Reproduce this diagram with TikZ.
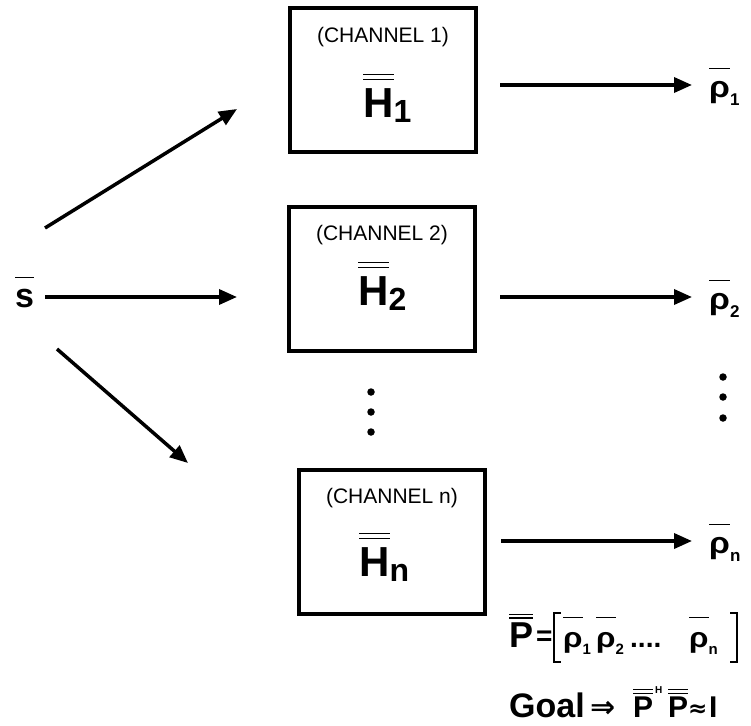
\documentclass[tikz,border=0pt]{standalone}
\usepackage{fontspec}
\setmainfont{Liberation Sans}
\newfontfamily\dvs{DejaVu Sans}
\usetikzlibrary{arrows.meta}
% double bar over content: #1, #2 = gaps above the content's height
\newcommand\dob[3]{\setbox0\hbox{#3}\rlap{\rule[\dimexpr\ht0+#1\relax]{\wd0}{1.4pt}}\rlap{\rule[\dimexpr\ht0+#2\relax]{\wd0}{1.4pt}}\box0}
% single bar at fixed height above baseline
\newcommand\sob[2]{\setbox0\hbox{#2}\rlap{\rule[#1]{\wd0}{1.4pt}}\box0}
\newcommand\rh{\scalebox{1.12}[1]{ρ}}
\tikzset{
  chbox/.style={draw, line width=4pt, minimum width=186pt, minimum height=144pt, inner sep=0},
  chlbl/.style={font=\fontsize{21}{21}\selectfont, inner sep=0, anchor=base},
  hlbl/.style={font=\fontsize{42}{42}\selectfont\bfseries, inner sep=0, anchor=base west},
  rholbl/.style={font=\fontsize{30}{30}\selectfont\bfseries, inner sep=0, anchor=base west},
  arr/.style={line width=3.5pt, -{Triangle[length=18pt,width=15pt]}},
  vdot/.style={fill, circle, inner sep=0, minimum size=7.5pt},
  fml/.style={font=\fontsize{28}{28}\selectfont\bfseries, inner sep=0, anchor=base west},
  brk/.style={line width=2.5pt},
}
\newcommand\hsub[1]{\raisebox{-5pt}{\fontsize{32}{32}\selectfont #1}}
\newcommand\rsub[1]{\raisebox{-8pt}{\fontsize{17}{17}\selectfont #1}}
\newcommand\fsub[1]{\raisebox{-7pt}{\fontsize{15}{15}\selectfont #1}}
\begin{document}
\begin{tikzpicture}[x=1pt,y=-1pt]
\useasboundingbox (0,0) rectangle (751,725);
% boxes
\node[chbox] (b1) at (383,80) {};
\node[chbox] (b2) at (382,278.5) {};
\node[chbox] (bn) at (392,542) {};
\node[chlbl] (c1) at (383,42) {(CHANNEL 1)};
\node[chlbl] (c2) at (382,240) {(CHANNEL 2)};
\node[chlbl] (cn) at (392,503) {(CHANNEL n)};
\node[hlbl] (h1) at (363,117) {\dob{8pt}{13pt}{H}\hsub{1}};
\node[hlbl] (h2) at (358,305) {\dob{8pt}{13pt}{H}\hsub{2}};
\node[hlbl] (hn) at (359,576) {\dob{8pt}{13pt}{H}\hsub{n}};
% source
\node[font=\fontsize{34}{34}\selectfont\bfseries, inner sep=0, anchor=base west] (s) at (15,307) {\sob{29pt}{s}};
\coordinate (a1s) at (45,228); \coordinate (a1e) at (237,109);
\coordinate (a2s) at (45,297); \coordinate (a2e) at (237,297);
\coordinate (a3s) at (57,349); \coordinate (a3e) at (188,463);
\draw[arr] (a1s) -- (a1e);
\draw[arr] (a2s) -- (a2e);
\draw[arr] (a3s) -- (a3e);
% outputs
\node[rholbl] (r1) at (709,97) {\sob{28pt}{\rh}\rsub{1}};
\node[rholbl] (r2) at (709,309) {\sob{28pt}{\rh}\rsub{2}};
\node[rholbl] (rn) at (709,553) {\sob{28pt}{\rh}\rsub{n}};
\coordinate (o1s) at (500,85); \coordinate (o1e) at (692,85);
\coordinate (o2s) at (500,297); \coordinate (o2e) at (692,297);
\coordinate (o3s) at (501,541); \coordinate (o3e) at (692,541);
\draw[arr] (o1s) -- (o1e);
\draw[arr] (o2s) -- (o2e);
\draw[arr] (o3s) -- (o3e);
% dots
\node[vdot] (d1) at (371,392) {};
\node[vdot] (d2) at (371,412) {};
\node[vdot] (d3) at (371,432) {};
\node[vdot] (e1) at (723,377) {};
\node[vdot] (e2) at (723,397) {};
\node[vdot] (e3) at (723,418) {};
% formula P = [ ... ]
\node[fml, font=\fontsize{36}{36}\selectfont\bfseries] (P) at (509,647) {\dob{3.5pt}{7pt}{P}};
\node[fml, font=\fontsize{28}{28}\selectfont\bfseries] (eq) at (536,645) {=};
\draw[brk] (561,613) -- (554,613) -- (554,662) -- (561,662);
\draw[brk] (730,613) -- (737,613) -- (737,662) -- (730,662);
\node[fml] (f1) at (563,647) {\sob{29pt}{\rh}\fsub{1}};
\node[fml] (f2) at (596,647) {\sob{29pt}{\rh}\fsub{2}};
\node[fml] (fd) at (630,647) {....};
\node[fml] (fn) at (689,647) {\sob{29pt}{\rh}\fsub{n}};
% goal
\node[font=\fontsize{34}{34}\selectfont\bfseries, inner sep=0, anchor=base west] (g) at (509,717) {Goal};
\node[font=\fontsize{30}{30}\selectfont\dvs\bfseries, inner sep=0, anchor=base west] (imp) at (590,717) {⇒};
\node[fml, font=\fontsize{30}{30}\selectfont\bfseries] (gp1) at (633,717) {\dob{2pt}{6pt}{P}};
\node[font=\fontsize{10}{10}\selectfont\bfseries, inner sep=0, anchor=base west] (gh) at (655,693) {H};
\node[fml, font=\fontsize{30}{30}\selectfont\bfseries] (gp2) at (668,717) {\dob{2pt}{6pt}{P}};
\node[font=\fontsize{23}{23}\selectfont\dvs\bfseries, inner sep=0, anchor=base west] (apx) at (688,716) {≈};
\node[fml, font=\fontsize{30}{30}\selectfont\bfseries] (gi) at (709,717) {I};
\end{tikzpicture}
\end{document}
